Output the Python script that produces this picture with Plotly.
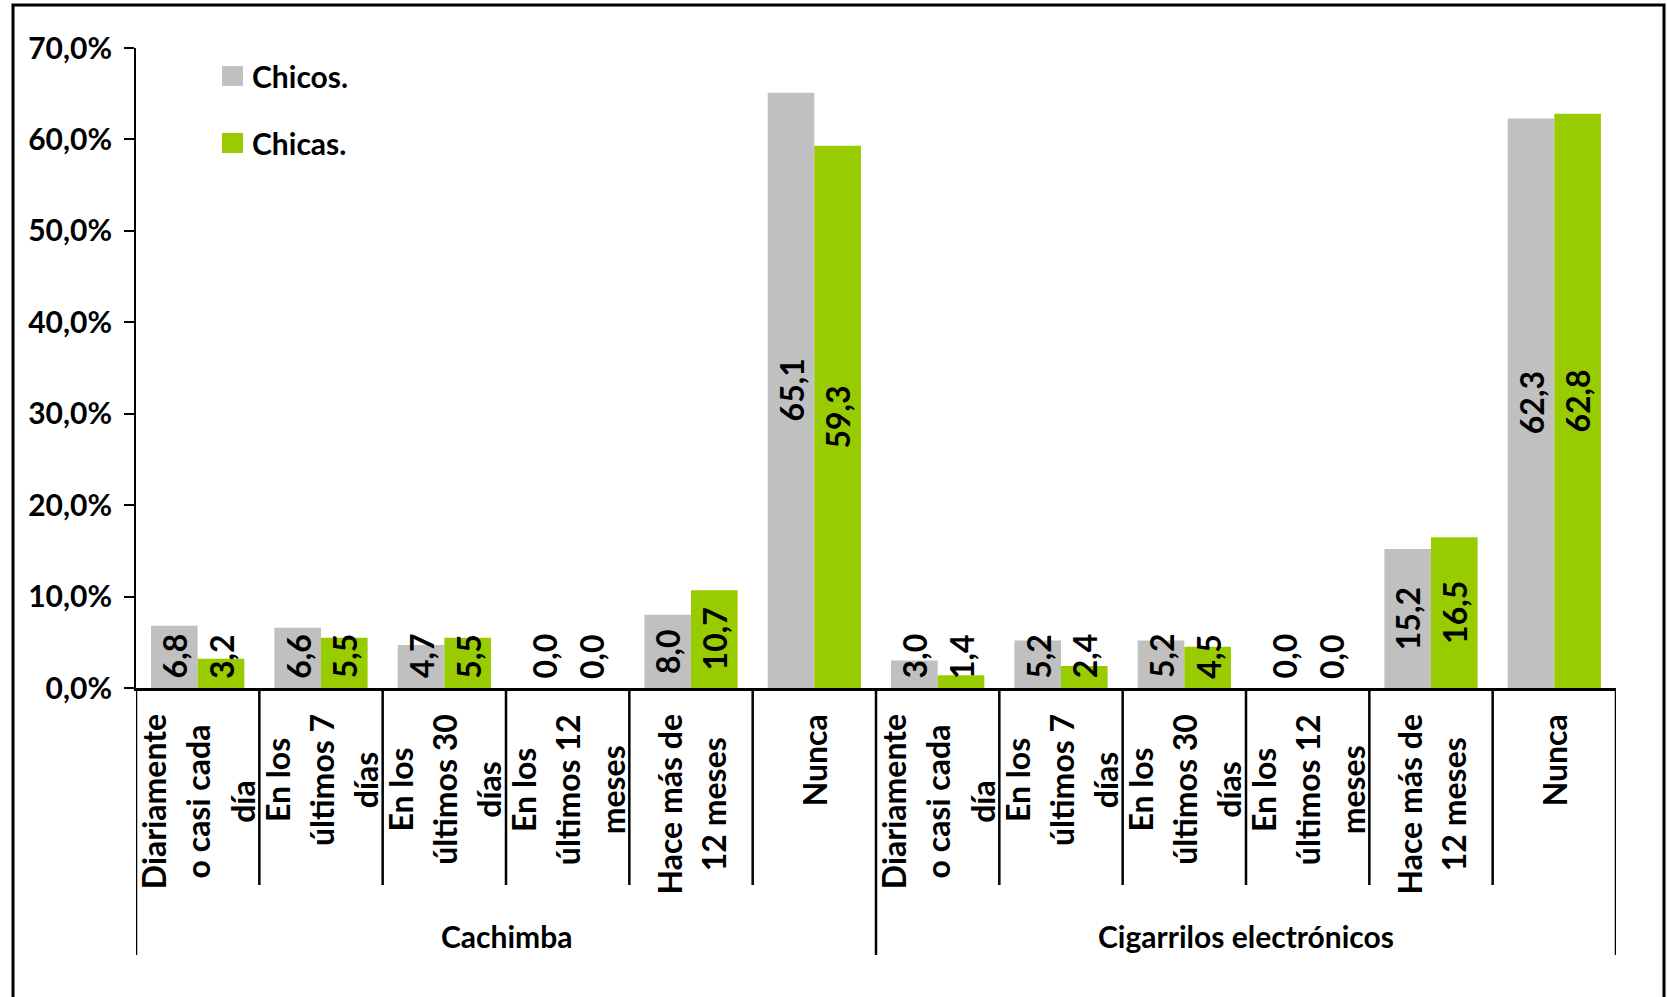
import plotly.graph_objects as go

# ---------------- data ----------------
groups = ["Cachimba", "Cigarrilos electrónicos"]
categories = [
    ["Diariamente", "o casi cada", "día"],
    ["En los", "últimos 7", "días"],
    ["En los", "últimos 30", "días"],
    ["En los", "últimos 12", "meses"],
    ["Hace más de", "12 meses"],
    ["Nunca"],
]
chicos = [6.8, 6.6, 4.7, 0.0, 8.0, 65.1, 3.0, 5.2, 5.2, 0.0, 15.2, 62.3]
chicas = [3.2, 5.5, 5.5, 0.0, 10.7, 59.3, 1.4, 2.4, 4.5, 0.0, 16.5, 62.8]
series_names = ["Chicos.", "Chicas."]
series_colors = ["#C0C0C0", "#99CC00"]
y_ticks = [0, 10, 20, 30, 40, 50, 60, 70]
y_ticktext = ["0,0%", "10,0%", "20,0%", "30,0%", "40,0%", "50,0%", "60,0%", "70,0%"]

# ---------------- geometry ----------------
W, H = 1667, 997
ML, MR, MT, MB = 136, 51, 48, 309
PW, PH = W - ML - MR, H - MT - MB
FONT = "Lato"
FS = 30
FS_LAB = 32
BARGAP = 0.244

def px_x(px):
    return (px - ML) / PW

def px_y(py):
    return (H - MB - py) / PH

n_cat = len(categories) * len(groups)
xs = list(range(n_cat))
all_labels = categories * len(groups)

fig = go.Figure()
for name, vals, col in zip(series_names, [chicos, chicas], series_colors):
    fig.add_trace(go.Bar(x=xs, y=vals, name=name, marker_color=col,
                         marker_line_width=0, showlegend=False, hoverinfo="skip"))

annotations = []
shapes = []

# data labels
ppu = PH / (y_ticks[-1] - y_ticks[0])
half = (1 - BARGAP) / 4
cw = {",": 0.25}
for si, vals in enumerate([chicos, chicas]):
    off = -half if si == 0 else half
    for i, v in enumerate(vals):
        txt = f"{v:.1f}".replace(".", ",")
        est_len = sum(cw.get(c, 0.53) for c in txt) * FS_LAB
        cmin = (11 + est_len / 2) / ppu
        annotations.append(dict(
            x=i + off, y=max(v / 2, cmin), xref="x", yref="y", text=txt,
            textangle=-90, showarrow=False, xanchor="center", yanchor="middle",
            font=dict(family=FONT, size=FS_LAB, color="black", weight="bold")))

# category labels
for i, lines in enumerate(all_labels):
    txt = "<br>".join(f"<span style='font-size:{FS_LAB}px'>{l}</span>" for l in lines)
    annotations.append(dict(
        x=i, y=px_y(713), xref="x", yref="paper", text=txt, textangle=-90,
        showarrow=False, xanchor="center", yanchor="top", align="center",
        borderpad=0,
        font=dict(family=FONT, size=34, color="black", weight="bold")))

# group labels
per = len(categories)
for g, gname in enumerate(groups):
    annotations.append(dict(
        x=g * per + (per - 1) / 2, y=px_y(936), xref="x", yref="paper",
        text=gname, showarrow=False, xanchor="center", yanchor="middle",
        font=dict(family=FONT, size=FS, color="black", weight="bold")))

# separators
for k in range(n_cat + 1):
    bottom = 955 if k % per == 0 else 885
    shapes.append(dict(type="line", xref="x", yref="paper", x0=k - 0.5, x1=k - 0.5,
                       y0=0, y1=px_y(bottom), line=dict(color="black", width=2.5)))

# legend (manual)
leg_y = [76, 143]
for name, col, cy in zip(series_names, series_colors, leg_y):
    shapes.append(dict(type="rect", xref="paper", yref="paper",
                       x0=px_x(222), x1=px_x(243), y0=px_y(cy - 10), y1=px_y(cy + 10),
                       fillcolor=col, line=dict(width=0)))
    annotations.append(dict(x=px_x(250), y=px_y(cy), xref="paper", yref="paper",
                            text=name, showarrow=False, xanchor="left", yanchor="middle",
                            font=dict(family=FONT, size=FS, color="black", weight="bold")))

# outer border
shapes.append(dict(type="rect", xref="paper", yref="paper",
                   x0=px_x(13), x1=px_x(1664), y0=px_y(5), y1=px_y(1010),
                   line=dict(color="black", width=3), fillcolor="rgba(0,0,0,0)"))

fig.update_layout(
    width=W, height=H,
    margin=dict(l=ML, r=MR, t=MT, b=MB, pad=0),
    paper_bgcolor="white", plot_bgcolor="white",
    barmode="group", bargap=BARGAP, bargroupgap=0,
    showlegend=False,
    annotations=annotations, shapes=shapes,
    xaxis=dict(range=[-0.5, n_cat - 0.5], showticklabels=False, ticks="",
               showgrid=False, zeroline=False, showline=True,
               linecolor="black", linewidth=3, fixedrange=True),
    yaxis=dict(range=[y_ticks[0], y_ticks[-1]], tickvals=y_ticks, ticktext=y_ticktext,
               ticks="outside", ticklen=10, tickwidth=2, tickcolor="black",
               showgrid=False, zeroline=False, showline=True, linecolor="black",
               linewidth=2, ticklabelstandoff=6,
               tickfont=dict(family=FONT, size=FS, color="black", weight="bold"),
               fixedrange=True),
)

fig.write_html("out.html", config={"displayModeBar": False},
               post_script="document.body.style.margin='0';document.body.style.overflow='hidden';")
